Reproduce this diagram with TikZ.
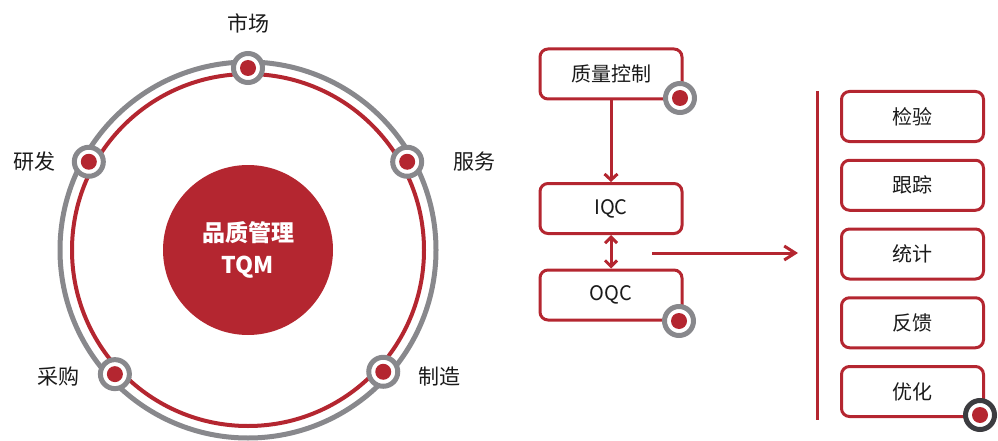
\documentclass[tikz,border=0pt]{standalone}
\usepackage{fontspec}
\setmainfont{Noto Sans CJK SC}
\usetikzlibrary{arrows.meta,calc}
\definecolor{qred}{RGB}{180,38,48}
\definecolor{qgray}{RGB}{136,136,140}
\definecolor{qdark}{RGB}{60,60,64}
\definecolor{qtext}{RGB}{26,26,26}
\tikzset{
	ring/.style={circle,draw=qgray,line width=5pt,fill=white,minimum size=29pt,inner sep=0pt},
	core/.style={circle,fill=qred,minimum size=16pt,inner sep=0pt},
	stage/.style={draw=qred,line width=3pt,rounded corners=8pt,minimum width=142pt,minimum height=50pt,
		fill=white,text=qtext,font=\fontsize{20}{24}\selectfont},
	lbl/.style={text=qtext,font=\fontsize{21}{24}\selectfont},
	flow/.style={qred,line width=3pt},
}
\begin{document}
\begin{tikzpicture}[x=1pt,y=-1pt]
		\useasboundingbox (0,0) rectangle (998,441);
		
		\draw [qgray,line width=5pt] (248,250) circle [radius=188pt];
		\draw [qred,line width=4pt] (248,250) circle [radius=176pt];
		\node [circle,fill=qred,minimum size=170pt,inner sep=0pt,text=white,align=center,
			font=\bfseries\fontsize{23}{32}\selectfont] (hub) at (248,250) {品质管理\\TQM};
		
		\foreach \ang/\nm in {90/mkt,151/rd,29/svc,-42/mfg,-137/buy}{
			\node [ring] (\nm) at ($(hub)+(\ang:182pt)$) {};
			\node [core] at (\nm) {};
		}
		\node [lbl] (mktl) at (248,23) {市场};
		\node [lbl] (rdl) at (34,162) {研发};
		\node [lbl] (svcl) at (474,162) {服务};
		\node [lbl] (buyl) at (58,377) {采购};
		\node [lbl] (mfgl) at (439,377) {制造};
		
		\node [stage] (qc) at (611,74) {质量控制};
		\node [stage] (iqc) at (611,208.5) {IQC};
		\node [stage] (oqc) at (611,295) {OQC};
		\draw [flow,-{Straight Barb[length=6pt,width=13pt]}] (qc) -- (iqc);
		\draw [flow,{Straight Barb[length=6pt,width=12pt]}-{Straight Barb[length=6pt,width=12pt]}] (iqc) -- (oqc);
		\node [ring] (qcm) at (680,98) {}; \node [core] at (qcm) {};
		\node [ring] (oqcm) at (679,321) {}; \node [core] at (oqcm) {};
		
		\coordinate (fork) at (652,253); \coordinate (tip) at (798,253);
		\draw [flow,-{Straight Barb[length=11pt,width=14pt]}] (fork) -- (tip);
		\coordinate (bartop) at (817,91); \coordinate (barbot) at (817,420);
		\draw [flow] (bartop) -- (barbot);
		
		\node [stage] (chk) at (912.5,116.5) {检验};
		\node [stage] (trk) at (912.5,185.25) {跟踪};
		\node [stage] (sta) at (912.5,254) {统计};
		\node [stage] (fbk) at (912.5,322.75) {反馈};
		\node [stage] (opt) at (912.5,391.5) {优化};
		\node [ring,draw=qdark] (optm) at (980,415) {}; \node [core] at (optm) {};
		\end{tikzpicture}
\end{document}
